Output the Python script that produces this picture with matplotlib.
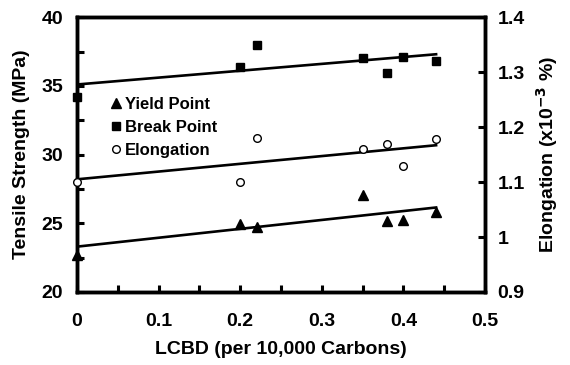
import matplotlib
matplotlib.use("Agg")
import matplotlib.pyplot as plt
from matplotlib.ticker import MultipleLocator, FixedLocator

plt.rcParams['font.family'] = ['Liberation Sans', 'DejaVu Sans']
plt.rcParams['font.weight'] = 'bold'

# data
lcbd = [0.0, 0.20, 0.22, 0.35, 0.38, 0.40, 0.44]
yield_pt = [22.7, 24.95, 24.75, 27.05, 25.2, 25.25, 25.85]
break_pt = [34.2, 36.4, 38.0, 37.0, 35.9, 37.1, 36.8]
elong = [1.100, 1.100, 1.180, 1.160, 1.169, 1.129, 1.178]

# trend lines (end points)
fit_x = [0.0, 0.44]
yield_fit = [23.3, 26.15]
break_fit = [35.1, 37.3]
elong_fit = [1.105, 1.167]

fig = plt.figure(figsize=(5.7, 3.65), dpi=100)
ax = fig.add_axes([0.135, 0.2, 0.716, 0.753])
ax2 = ax.twinx()

ax.plot(fit_x, yield_fit, color='black', lw=1.9, zorder=2)
ax.plot(fit_x, break_fit, color='black', lw=1.9, zorder=2)
ax2.plot(fit_x, elong_fit, color='black', lw=1.9, zorder=2)

ax.plot(lcbd, yield_pt, '^', color='black', ms=6.5, ls='none', label='Yield Point', clip_on=False, zorder=3)
ax.plot(lcbd, break_pt, 's', color='black', ms=6, ls='none', label='Break Point', clip_on=False, zorder=3)
ax2.plot(lcbd, elong, 'o', mfc='white', mec='black', mew=1.0, ms=5.5, ls='none', clip_on=False, zorder=3)
# proxy for legend
ax.plot([], [], 'o', mfc='white', mec='black', mew=1.0, ms=5.5, ls='none', label='Elongation')

ax.set_xlim(0, 0.5)
ax.set_ylim(20, 40)
ax2.set_ylim(0.9, 1.4)

ax.xaxis.set_major_locator(FixedLocator([0, 0.1, 0.2, 0.3, 0.4, 0.5]))
ax.xaxis.set_minor_locator(MultipleLocator(0.05))
ax.set_xticklabels(['0', '0.1', '0.2', '0.3', '0.4', '0.5'])
ax.yaxis.set_major_locator(MultipleLocator(5))
ax.yaxis.set_minor_locator(MultipleLocator(2.5))
ax2.yaxis.set_major_locator(FixedLocator([0.9, 1.0, 1.1, 1.2, 1.3, 1.4]))
ax2.set_yticklabels(['0.9', '1', '1.1', '1.2', '1.3', '1.4'])

ax.tick_params(axis='x', which='both', direction='in', length=5, width=2.2, pad=15, labelsize=14)
ax.tick_params(axis='y', which='both', direction='in', length=5, width=2.2, pad=10, labelsize=14)
ax2.tick_params(axis='y', which='both', direction='in', length=5, width=2.2, pad=9, labelsize=14)

for a in (ax, ax2):
    for s in a.spines.values():
        s.set_linewidth(2.5)

ax.set_xlabel('LCBD (per 10,000 Carbons)', fontsize=14, fontweight='bold', labelpad=8)
ax.set_ylabel('Tensile Strength (MPa)', fontsize=14, fontweight='bold', labelpad=8)
ax2.set_ylabel('Elongation (x10$^{-3}$ %)', fontsize=14, fontweight='bold', labelpad=7)

leg = ax.legend(loc='upper left', bbox_to_anchor=(0.06, 0.735), frameon=False,
                handletextpad=0.0, handlelength=1.0, labelspacing=0.5,
                prop={'size': 12, 'weight': 'bold'}, borderaxespad=0)

fig.savefig('out.png', dpi=100)
